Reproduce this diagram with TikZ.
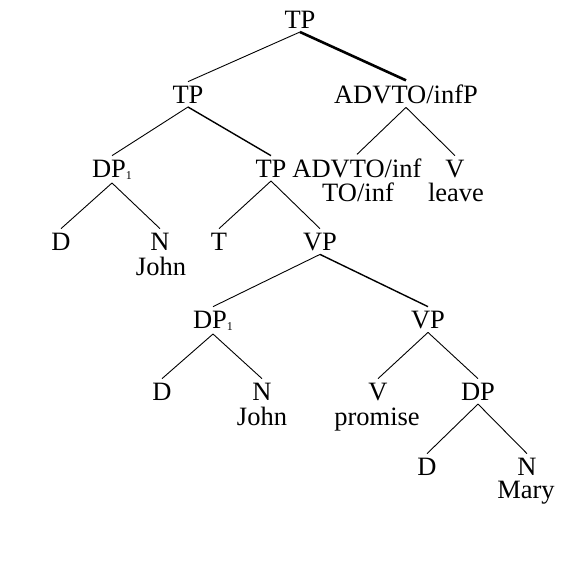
\documentclass[tikz,border=0pt]{standalone}
\usepackage{fontspec}
\setmainfont{Liberation Serif}
\begin{document}
\begin{tikzpicture}[x=1pt,y=-1pt,
  lab/.style={anchor=base,inner sep=0pt,outer sep=0pt,font=\fontsize{26.5}{30}\selectfont},
  cat/.style={lab,inner ysep=4pt},
  br/.style={line width=0.9pt},
  brk/.style={line width=1.4pt},
  brd/.style={line width=2.6pt}]
\useasboundingbox (0,0) rectangle (586,570);
\newcommand{\subone}{\raisebox{-2pt}{\fontsize{12}{12}\selectfont 1}}
% level 0
\node[cat] (tp0) at (300,28) {TP};
% level 1
\node[cat] (tp1) at (188,103) {TP};
\node[cat] (adp) at (406,103) {ADVTO/infP};
% level 2
\node[cat] (dp1) at (112,177) {DP\subone};
\node[cat] (tp2) at (271,177) {TP};
\node[cat] (adv) at (357,177) {ADVTO/inf};
\node[lab] (toinf) at (358,201) {TO/inf};
\node[cat] (v1) at (455,177) {V};
\node[lab] (leave) at (456,201) {leave};
% level 3
\node[cat] (d1) at (61,250) {D};
\node[cat] (n1) at (160,250) {N};
\node[lab] (john1) at (161,275) {John};
\node[cat] (t) at (219,250) {T};
\node[cat] (vp1) at (320,250) {VP};
% level 4
\node[cat] (dp2) at (213,328) {DP\subone};
\node[cat] (vp2) at (428,328) {VP};
% level 5
\node[cat] (d2) at (162,400) {D};
\node[cat] (n2) at (262,400) {N};
\node[lab] (john2) at (262,425) {John};
\node[cat] (v2) at (378,400) {V};
\node[lab] (promise) at (377,425) {promise};
\node[cat] (dp3) at (478,400) {DP};
% level 6
\node[cat] (d3) at (427,475) {D};
\node[cat] (n3) at (527,475) {N};
\node[lab] (mary) at (526,498) {Mary};
% branches
\draw[br] (tp0.south) -- (tp1.north);
\draw[brd] (tp0.south) -- (adp.north);
\draw[br] (tp1.south) -- (dp1.north);
\draw[brk] (tp1.south) -- (tp2.north);
\draw[br] (adp.south) -- (adv.north);
\draw[br] (adp.south) -- (v1.north);
\draw[br] (dp1.south) -- (d1.north);
\draw[br] (dp1.south) -- (n1.north);
\draw[br] (tp2.south) -- (t.north);
\draw[br] (tp2.south) -- (vp1.north);
\draw[br] (vp1.south) -- (dp2.north);
\draw[brk] (vp1.south) -- (vp2.north);
\draw[br] (dp2.south) -- (d2.north);
\draw[br] (dp2.south) -- (n2.north);
\draw[br] (vp2.south) -- (v2.north);
\draw[br] (vp2.south) -- (dp3.north);
\draw[br] (dp3.south) -- (d3.north);
\draw[br] (dp3.south) -- (n3.north);
\end{tikzpicture}
\end{document}
